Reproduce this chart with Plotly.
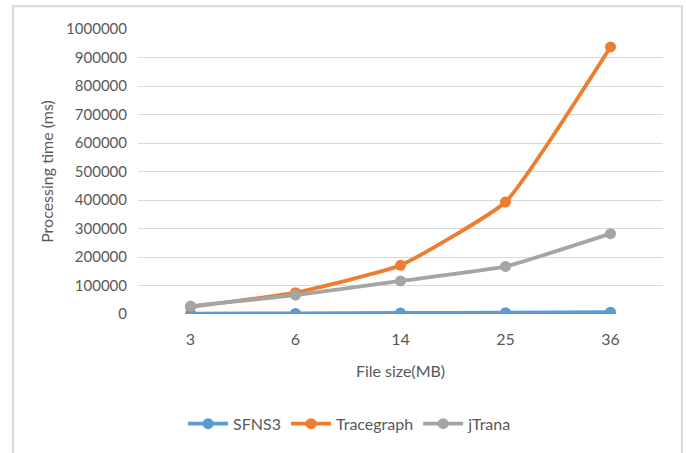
import plotly.graph_objects as go

categories = ["3", "6", "14", "25", "36"]
sfns3 = [1500, 2000, 3500, 4500, 6500]
tracegraph = [25000, 75000, 171000, 393000, 937000]
jtrana = [28000, 66000, 116000, 167000, 282000]
y_ticks = [0, 100000, 200000, 300000, 400000, 500000, 600000, 700000, 800000, 900000, 1000000]

series = [("SFNS3", sfns3, "#5B9BD5"), ("Tracegraph", tracegraph, "#ED7D31"), ("jTrana", jtrana, "#A5A5A5")]

fig = go.Figure()
for name, vals, col in series:
    fig.add_trace(go.Scatter(
        x=categories, y=vals, name=name, mode="lines+markers",
        line=dict(color=col, width=3.8, shape="spline", smoothing=0.4),
        marker=dict(color=col, size=11),
    ))

font = "Lato, Open Sans, sans-serif"
fig.update_layout(
    width=686, height=453,
    margin=dict(l=138, r=23, t=29, b=137),
    paper_bgcolor="white", plot_bgcolor="white",
    font=dict(family=font, color="#595959", size=15),
    xaxis=dict(type="category", range=[-0.5, 4.5], showgrid=False, showline=False, ticks="",
               ticklabelstandoff=14, automargin=False,
               title=dict(text="File size(MB)", font=dict(size=16, color="#595959"), standoff=18),
               tickfont=dict(size=16)),
    yaxis=dict(range=[0, 1000000], tickvals=y_ticks, ticktext=[str(v) for v in y_ticks],
               showgrid=True, gridcolor="#D9D9D9", gridwidth=1.3, zeroline=False, showline=False,
               ticks="", tickfont=dict(size=15), ticklabelstandoff=10, automargin=False,
               title=dict(text="Processing time (ms)", font=dict(size=16, color="#595959"), standoff=8)),
    legend=dict(orientation="h", x=0.404, xanchor="center", y=-0.385, yanchor="middle",
                font=dict(size=16, color="#595959"), itemwidth=40),
    showlegend=True,
    shapes=[dict(type="rect", xref="paper", yref="paper", x0=-0.238, x1=1.036, y0=-0.52, y1=1.08,
                 line=dict(color="#D9D9D9", width=2), layer="below")],
)

fig.write_html("out.html")
